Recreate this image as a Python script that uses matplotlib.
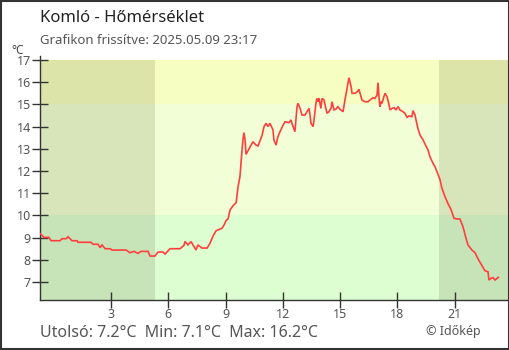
import matplotlib
matplotlib.use("Agg")
import matplotlib.pyplot as plt
from matplotlib.patches import Rectangle

plt.rcParams['font.family'] = ['Noto Sans', 'DejaVu Sans']

title = "Komló - Hőmérséklet"
subtitle = "Grafikon frissítve: 2025.05.09 23:17"
footer = "Utolsó: 7.2°C  Min: 7.1°C  Max: 16.2°C"
credit = "© Időkép"
unit = "°C"

hours = [-0.72, -0.51, -0.25, -0.14, 0.33, 0.43, 0.64, 0.75, 0.96, 1.22, 1.27, 1.95,
         2.06, 2.32, 2.42, 2.53, 2.69, 2.95, 3.05, 3.79, 3.99, 4.20, 4.41, 4.57, 4.94,
         5.04, 5.30, 5.46, 5.72, 5.83, 6.09, 6.61, 6.82, 6.87, 7.03, 7.19, 7.45, 7.55,
         7.76, 8.03, 8.18, 8.34, 8.50, 8.81, 8.92, 9.02, 9.13, 9.23, 9.39, 9.55, 9.60,
         9.65, 9.75, 9.81, 9.86, 9.91, 9.96, 10.02, 10.07, 10.17, 10.33, 10.43, 10.59,
         10.70, 10.91, 11.01, 11.12, 11.22, 11.32, 11.48, 11.53, 11.64, 11.74, 11.85,
         12.01, 12.11, 12.32, 12.42, 12.53, 12.63, 12.69, 12.74, 12.79, 12.90, 13.00,
         13.16, 13.26, 13.37, 13.42, 13.47, 13.58, 13.63, 13.73, 13.78, 13.84, 13.89,
         13.99, 14.05, 14.15, 14.31, 14.41, 14.52, 14.57, 14.68, 14.78, 14.88, 14.99,
         15.15, 15.25, 15.36, 15.46, 15.57, 15.62, 15.78, 15.89, 15.98, 16.04, 16.14,
         16.30, 16.46, 16.56, 16.72, 16.82, 16.93, 16.98, 17.03, 17.08, 17.14, 17.19,
         17.29, 17.35, 17.45, 17.56, 17.61, 17.71, 17.82, 17.92, 18.03, 18.13, 18.29,
         18.39, 18.50, 18.60, 18.76, 18.81, 18.92, 18.97, 19.07, 19.18, 19.34, 19.49,
         19.60, 19.70, 19.86, 19.96, 20.07, 20.23, 20.33, 20.49, 20.64, 20.80, 20.96,
         21.12, 21.27, 21.43, 21.59, 21.69, 21.90, 22.06, 22.16, 22.32, 22.48, 22.58,
         22.74, 22.79, 22.90, 23.00, 23.11, 23.28]
temps = [9.19, 9.01, 9.01, 8.86, 8.86, 8.95, 8.95, 9.04, 8.86, 8.86, 8.79, 8.79,
         8.70, 8.70, 8.55, 8.67, 8.50, 8.50, 8.44, 8.44, 8.32, 8.38, 8.29, 8.38, 8.38,
         8.17, 8.17, 8.35, 8.35, 8.26, 8.50, 8.50, 8.65, 8.83, 8.67, 8.82, 8.44, 8.67,
         8.53, 8.53, 8.74, 9.07, 9.31, 9.42, 9.57, 9.76, 9.85, 10.24, 10.44, 10.57, 10.92,
         11.29, 11.74, 12.42, 12.95, 13.43, 13.73, 13.40, 12.75, 12.91, 13.17, 13.32, 13.17,
         13.13, 13.61, 14.00, 14.15, 14.00, 14.15, 13.85, 13.40, 13.17, 13.55, 13.77,
         14.07, 14.22, 14.18, 14.30, 14.00, 13.77, 14.37, 14.90, 15.05, 14.82, 14.52,
         14.52, 14.67, 14.82, 14.52, 14.15, 14.00, 14.30, 15.05, 15.27, 15.12, 15.27,
         14.82, 15.27, 15.20, 14.60, 14.67, 14.82, 15.12, 14.75, 14.79, 14.90, 14.78,
         14.67, 15.20, 15.72, 16.20, 15.80, 15.50, 15.50, 15.57, 15.68, 15.50, 15.20,
         15.12, 15.12, 15.20, 15.30, 15.27, 15.42, 15.98, 15.35, 14.90, 15.12, 15.05,
         15.35, 15.50, 15.35, 14.97, 14.75, 14.82, 14.85, 14.75, 14.90, 14.75, 14.67,
         14.60, 14.42, 14.48, 14.45, 14.72, 14.52, 14.30, 13.92, 13.62, 13.40, 13.13,
         12.95, 12.64, 12.35, 12.20, 11.97, 11.60, 11.22, 10.84, 10.54, 10.27, 9.87,
         9.84, 9.84, 9.49, 8.97, 8.67, 8.44, 8.32, 8.14, 7.89, 7.66, 7.51,
         7.46, 7.09, 7.17, 7.20, 7.09, 7.21]

x_ticks = [3, 6, 9, 12, 15, 18, 21]
y_ticks = [7, 8, 9, 10, 11, 12, 13, 14, 15, 16, 17]
temp_bands = [6.19, 10, 15, 17]
time_bands = [-0.72, 5.31, 20.18, 23.84]
day_colors = ["#dcfed0", "#f2fed6", "#f6fec2"]
night_colors = ["#c6e4b7", "#d8e4b9", "#dde4a9"]

fig = plt.figure(figsize=(5.1, 3.5), dpi=100)
ax = fig.add_axes([40/510, 50/350, 469/510, 244/350])
ax.set_xlim(time_bands[0], time_bands[-1])
ax.set_ylim(temp_bands[0], 17.18)

for i in range(3):
    for j in range(3):
        night = (j != 1)
        c = night_colors[i] if night else day_colors[i]
        ax.add_patch(Rectangle((time_bands[j], temp_bands[i]),
                               time_bands[j+1] - time_bands[j],
                               temp_bands[i+1] - temp_bands[i],
                               facecolor=c, edgecolor='none', zorder=0))

ax.plot(hours, temps, color="#ff3f3f", lw=1.2, zorder=3, solid_joinstyle='miter')

for s in ['top', 'right']:
    ax.spines[s].set_visible(False)
for s in ['left', 'bottom']:
    ax.spines[s].set_color('#333333')
    ax.spines[s].set_linewidth(1.0)

ax.set_xticks(x_ticks)
ax.set_yticks(y_ticks)
ax.tick_params(axis='both', direction='inout', length=11, width=1.0,
               color='#333333', labelcolor='#555555', labelsize=9)
ax.tick_params(axis='y', pad=1)
ax.tick_params(axis='x', pad=0)

fig.text(40/510, 1 - 18/350, title, fontsize=12, color='#222222', va='center', ha='left')
fig.text(40/510, 1 - 41/350, subtitle, fontsize=9.5, color='#555555', va='center', ha='left')
fig.text(18/510, 1 - 50/350, unit, fontsize=8.5, color='#444444', va='center', ha='center')
fig.text(40/510, 1 - 333/350, footer, fontsize=11.5, color='#555555', va='center', ha='left')
fig.text(481/510, 1 - 331/350, credit, fontsize=9, color='#555555', va='center', ha='right')

fig.add_artist(Rectangle((0.001, 0.002), 0.997, 0.996, transform=fig.transFigure,
                         fill=False, edgecolor='#333333', linewidth=1.5))

fig.savefig("out.png", dpi=100)
